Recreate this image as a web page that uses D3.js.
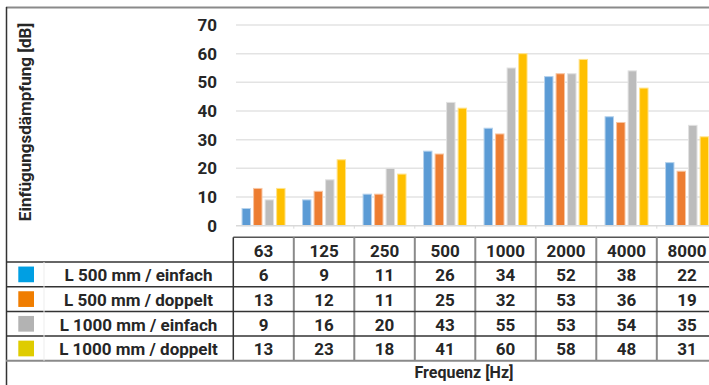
<!DOCTYPE html>
<html>
<head>
<meta charset="utf-8">
<script src="https://cdn.jsdelivr.net/npm/d3@7"></script>
<style>
  html, body { margin: 0; padding: 0; background: #fff; }
  svg { display: block; font-family: Roboto, "DejaVu Sans", sans-serif; }
</style>
</head>
<body>
<svg id="chart" width="709" height="385"></svg>
<script>
// Frequency bands and the four measured configurations
const frequencies = ["63", "125", "250", "500", "1000", "2000", "4000", "8000"];
const seriesNames = ["L 500 mm / einfach", "L 500 mm / doppelt", "L 1000 mm / einfach", "L 1000 mm / doppelt"];
const einfach500 = [6, 9, 11, 26, 34, 52, 38, 22];
const doppelt500 = [13, 12, 11, 25, 32, 53, 36, 19];
const einfach1000 = [9, 16, 20, 43, 55, 53, 54, 35];
const doppelt1000 = [13, 23, 18, 41, 60, 58, 48, 31];
const yTicks = [0, 10, 20, 30, 40, 50, 60, 70];
const barColors = ["#5B9BD5", "#ED7D31", "#BCBCBC", "#FFC000"];
const swatchColors = ["#009FE3", "#F07D00", "#B3B3B3", "#DFCC00"];
const yTitle = "Einfügungsdämpfung [dB]";
const xTitle = "Frequenz [Hz]";

const series = [einfach500, doppelt500, einfach1000, doppelt1000];

const svg = d3.select("#chart");
const W = 709;
const FONT_W = 700;
const TEXT = "#262626";

const x = d3.scaleBand().domain(frequencies).range([233.3, 717.3]);
const xi = d3.scaleBand().domain(d3.range(series.length)).range([0, 44]).paddingInner(2 / 11);
const y = d3.scaleLinear().domain([0, 70]).range([225.7, 25]);

// Outer frame
svg.append("line").attr("x1", 6).attr("x2", W).attr("y1", 7.5).attr("y2", 7.5)
  .attr("stroke", "#8a8a8a").attr("stroke-width", 2);
svg.append("line").attr("x1", 6.5).attr("x2", 6.5).attr("y1", 7).attr("y2", 385)
  .attr("stroke", "#333").attr("stroke-width", 1.5);

// Gridlines
svg.append("g").selectAll("line").data(yTicks.filter(d => d > 0)).join("line")
  .attr("x1", 236).attr("x2", W)
  .attr("y1", d => y(d)).attr("y2", d => y(d))
  .attr("stroke", "#E3E3E3").attr("stroke-width", 1.5);

// Y axis labels
const yAxis = d3.axisLeft(y).tickValues(yTicks).tickSize(0).tickPadding(0);
const yg = svg.append("g").attr("transform", "translate(217,0)").call(yAxis);
yg.select(".domain").remove();
yg.selectAll("text").attr("font-size", 17).attr("font-weight", FONT_W).attr("fill", TEXT)
  .attr("font-family", "Roboto, sans-serif");

// Y title
svg.append("text")
  .attr("transform", `translate(31,${122}) rotate(-90)`)
  .attr("text-anchor", "middle")
  .attr("font-size", 17).attr("font-weight", FONT_W).attr("fill", TEXT)
  .text(yTitle);

// Bars
const groups = svg.append("g").selectAll("g").data(frequencies).join("g")
  .attr("transform", f => `translate(${x(f) + x.bandwidth() / 2 - 22},0)`);
groups.selectAll("rect").data((f, i) => series.map((s, k) => ({ k, v: s[i] }))).join("rect")
  .attr("x", d => xi(d.k) + 0.5)
  .attr("width", xi.bandwidth() - 1)
  .attr("y", d => y(d.v))
  .attr("height", d => y(0) - y(d.v))
  .attr("fill", d => barColors[d.k])
  .attr("stroke", d => d3.interpolateRgb(barColors[d.k], "#fff")(0.55))
  .attr("stroke-width", 1);

// Baseline and category ticks
svg.append("line").attr("x1", 236).attr("x2", W).attr("y1", y(0)).attr("y2", y(0))
  .attr("stroke", "#D9D9D9").attr("stroke-width", 1.5);
svg.append("g").selectAll("line").data(frequencies.slice(1)).join("line")
  .attr("x1", f => x(f)).attr("x2", f => x(f))
  .attr("y1", y(0)).attr("y2", y(0) + 3)
  .attr("stroke", "#D9D9D9").attr("stroke-width", 1);

// Data table
const rowTop = 237.3, rowH = 24.7;
const rowY = i => rowTop + i * rowH;

// Header row
svg.append("line").attr("x1", 233.3).attr("x2", W).attr("y1", rowY(0)).attr("y2", rowY(0))
  .attr("stroke", "#555").attr("stroke-width", 1.5);
svg.append("line").attr("x1", 233.3).attr("x2", 233.3).attr("y1", rowY(0)).attr("y2", rowY(5))
  .attr("stroke", "#333").attr("stroke-width", 1.5);
svg.append("g").selectAll("line").data(frequencies.slice(1)).join("line")
  .attr("x1", f => x(f)).attr("x2", f => x(f))
  .attr("y1", rowY(0)).attr("y2", rowY(5))
  .attr("stroke", "#8a8a8a").attr("stroke-width", 2);

// Row separators
svg.append("g").selectAll("line").data([1, 2, 3, 4]).join("line")
  .attr("x1", 6).attr("x2", W)
  .attr("y1", d => rowY(d)).attr("y2", d => rowY(d))
  .attr("stroke", "#333").attr("stroke-width", 1.5);
svg.append("line").attr("x1", 6).attr("x2", W).attr("y1", rowY(5)).attr("y2", rowY(5))
  .attr("stroke", "#8a8a8a").attr("stroke-width", 2);
svg.append("line").attr("x1", 44).attr("x2", 44).attr("y1", rowY(1)).attr("y2", rowY(5))
  .attr("stroke", "#EDEDED").attr("stroke-width", 1);

const cellText = (sel) => sel.attr("font-size", 17).attr("font-weight", FONT_W).attr("fill", TEXT)
  .attr("text-anchor", "middle").attr("dominant-baseline", "central");

// Header numbers
svg.append("g").selectAll("text").data(frequencies).join("text")
  .attr("x", f => x(f) + x.bandwidth() / 2)
  .attr("y", rowY(0) + rowH / 2 + 1)
  .call(cellText)
  .text(f => f);

// Legend + values
series.forEach((s, k) => {
  const cy = rowY(k + 1) + rowH / 2;
  svg.append("rect").attr("x", 18.3).attr("y", cy - 7.8).attr("width", 15.7).attr("height", 15.7)
    .attr("fill", swatchColors[k]);
  svg.append("text").attr("x", 138.5).attr("y", cy + 1).call(cellText).text(seriesNames[k]);
  svg.append("g").selectAll("text").data(s).join("text")
    .attr("x", (v, i) => x(frequencies[i]) + x.bandwidth() / 2)
    .attr("y", cy + 1)
    .call(cellText)
    .text(v => v);
});

// X title
svg.append("text").attr("x", 464).attr("y", 372.5).call(cellText).attr("font-size", 16).text(xTitle);
</script>
</body>
</html>
